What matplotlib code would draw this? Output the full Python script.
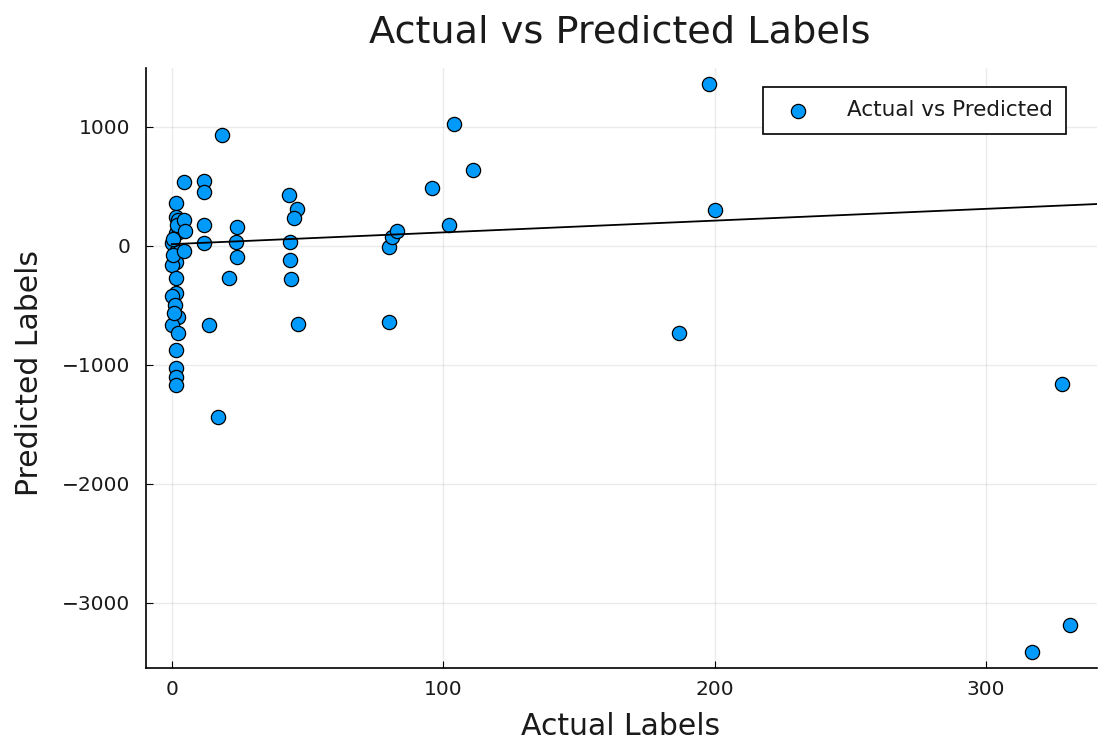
import matplotlib
matplotlib.use("Agg")
import matplotlib.pyplot as plt
import numpy as np

# Actual vs predicted values
actual = np.array([
    # dense column near zero
    1.5, 1.5, 2.2, 1.5, 2.6, 0.0, 1.5, 2.6, 1.5, 0.0,
    1.5, 1.5, 0.0, 1.1, 2.2, 0.0, 2.2, 1.5, 1.5, 1.5,
    1.5, 0.5, 0.3, 2.0, 0.8,
    # small values
    4.4, 4.4, 4.8, 4.4,
    12, 12, 12, 12,
    13.6, 17, 18.5, 21,
    24, 23.6, 24,
    # around 45
    46, 45, 43, 43.5, 43.5, 44, 46.5,
    # around 80-110
    80, 81, 83, 80, 96, 102, 104, 111,
    # large values
    187, 198, 200, 317, 328, 331,
])
predicted = np.array([
    361, 244, 218, 109, 118, 25, -50, -50, -134, -160,
    -269, -395, -420, -496, -597, -664, -731, -874, -1025, -1100,
    -1168, 60, -80, 180, -560,
    538, 218, 126, -42,
    546, 454, 176, 25,
    -664, -1437, 933, -269,
    160, 34, -92,
    311, 235, 429, 34, -118, -277, -655,
    -8, 76, 126, -639, 487, 176, 1025, 639,
    -731, 1361, 302, -3412, -1160, -3185,
])

# fitted line shown in the chart
fit_intercept = 15
fit_slope = 0.99
fit_x = np.array([0, 345])

text_color = "#1a1a1a"

fig = plt.figure(figsize=(11.04, 7.47), dpi=100)
ax = fig.add_axes([0.132, 0.106, 0.862, 0.803])

ax.scatter(actual, predicted, s=105, color="#009AFA", edgecolors="black",
           linewidths=0.9, label="Actual vs Predicted", zorder=3)
ax.plot(fit_x, fit_intercept + fit_slope * fit_x, color="black",
        linewidth=1.3, zorder=4)

ax.set_xlim(-9.6, 341)
ax.set_ylim(-3546, 1496)
ax.set_xticks([0, 100, 200, 300])
ax.set_yticks([-3000, -2000, -1000, 0, 1000])

ax.grid(True, color="black", alpha=0.08, linewidth=1)
ax.set_axisbelow(True)
for side in ["top", "right"]:
    ax.spines[side].set_visible(False)
for side in ["left", "bottom"]:
    ax.spines[side].set_linewidth(1.2)
ax.tick_params(direction="in", length=5, labelsize=14.5,
               labelcolor=text_color, colors="black")
ax.tick_params(axis="y", pad=11)
ax.tick_params(axis="x", pad=9)

fig.text(0.561, 0.956, "Actual vs Predicted Labels", fontsize=27.5,
         ha="center", va="center", color=text_color)
fig.text(0.562, 0.028, "Actual Labels", fontsize=21.5,
         ha="center", va="center", color=text_color)
fig.text(0.027, 0.500, "Predicted Labels", fontsize=21.5, rotation=90,
         ha="center", va="center", color=text_color)

leg = ax.legend(loc="upper right", fontsize=15.5, fancybox=False,
                edgecolor="black", framealpha=1, borderpad=0.62,
                handletextpad=1.25, borderaxespad=0,
                bbox_to_anchor=(1066 / 1104, 1 - 87 / 747),
                bbox_transform=fig.transFigure)
leg.get_frame().set_linewidth(1.2)
for t in leg.get_texts():
    t.set_color(text_color)

fig.savefig("out.png", dpi=100)
